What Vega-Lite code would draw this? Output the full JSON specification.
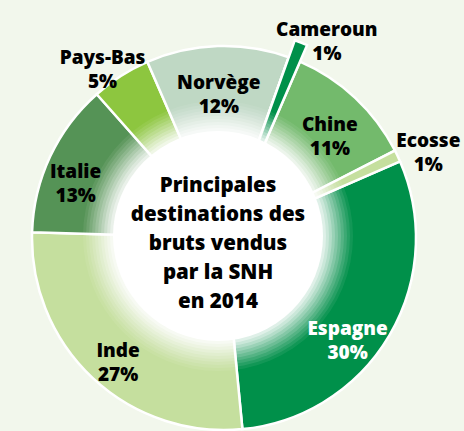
{
  "$schema": "https://vega.github.io/schema/vega-lite/v6.json",
  "width": 448,
  "height": 386,
  "autosize": {"type": "none"},
  "padding": {"left": 0, "top": 45, "right": 16, "bottom": 0},
  "background": "#F2F7EC",
  "config": {"view": {"stroke": null}},
  "datasets": {
    "parts": [
      {"pays": "Espagne", "pct": 30, "ordre": 1},
      {"pays": "Inde", "pct": 27, "ordre": 2},
      {"pays": "Italie", "pct": 13, "ordre": 3},
      {"pays": "Pays-Bas", "pct": 5, "ordre": 4},
      {"pays": "Norvège", "pct": 12, "ordre": 5},
      {"pays": "Cameroun", "pct": 1, "ordre": 6},
      {"pays": "Chine", "pct": 11, "ordre": 7},
      {"pays": "Ecosse", "pct": 1, "ordre": 8}
    ]
  },
  "layer": [
    {
      "data": {"name": "parts"},
      "transform": [
        {"stack": "pct", "groupby": [], "sort": [{"field": "ordre", "order": "ascending"}], "as": ["t0", "t1"]}
      ],
      "mark": {"type": "arc", "outerRadius": 192, "innerRadius": 90, "stroke": "white", "strokeWidth": 2.5},
      "encoding": {
        "theta": {"field": "t0", "type": "quantitative", "scale": {"domain": [0, 100], "range": [1.1606, 7.4438]}},
        "theta2": {"field": "t1"},
        "color": {
          "field": "pays", "type": "nominal", "legend": null,
          "scale": {
            "domain": ["Espagne", "Inde", "Italie", "Pays-Bas", "Norvège", "Cameroun", "Chine", "Ecosse"],
            "range": ["#00904A", "#C5DF9E", "#559356", "#8DC63F", "#BFD8C4", "#00904A", "#73BA6C", "#C5DF9E"]
          }
        }
      }
    },
    {
      "data": {"name": "parts"},
      "transform": [
        {"stack": "pct", "groupby": [], "sort": [{"field": "ordre", "order": "ascending"}], "as": ["t0", "t1"]},
        {"filter": "datum.pays === 'Cameroun'"}
      ],
      "mark": {"type": "arc", "outerRadius": 210, "innerRadius": 90, "stroke": "white", "strokeWidth": 2.5},
      "encoding": {
        "theta": {"field": "t0", "type": "quantitative", "scale": {"domain": [0, 100], "range": [1.1606, 7.4438]}},
        "theta2": {"field": "t1"},
        "color": {"field": "pays", "type": "nominal", "legend": null}
      }
    },
    {"data": {"values": [{"g": 1}]}, "mark": {"type": "arc", "theta": 0, "theta2": 6.2832, "innerRadius": 0, "outerRadius": 135, "fill": "white", "opacity": 0.07, "xOffset": -6, "yOffset": -2}, "encoding": {}},
    {"data": {"values": [{"g": 1}]}, "mark": {"type": "arc", "theta": 0, "theta2": 6.2832, "innerRadius": 0, "outerRadius": 132, "fill": "white", "opacity": 0.09, "xOffset": -6, "yOffset": -2}, "encoding": {}},
    {"data": {"values": [{"g": 1}]}, "mark": {"type": "arc", "theta": 0, "theta2": 6.2832, "innerRadius": 0, "outerRadius": 129, "fill": "white", "opacity": 0.1, "xOffset": -6, "yOffset": -2}, "encoding": {}},
    {"data": {"values": [{"g": 1}]}, "mark": {"type": "arc", "theta": 0, "theta2": 6.2832, "innerRadius": 0, "outerRadius": 126, "fill": "white", "opacity": 0.12, "xOffset": -6, "yOffset": -2}, "encoding": {}},
    {"data": {"values": [{"g": 1}]}, "mark": {"type": "arc", "theta": 0, "theta2": 6.2832, "innerRadius": 0, "outerRadius": 123, "fill": "white", "opacity": 0.14, "xOffset": -6, "yOffset": -2}, "encoding": {}},
    {"data": {"values": [{"g": 1}]}, "mark": {"type": "arc", "theta": 0, "theta2": 6.2832, "innerRadius": 0, "outerRadius": 120, "fill": "white", "opacity": 0.16, "xOffset": -6, "yOffset": -2}, "encoding": {}},
    {"data": {"values": [{"g": 1}]}, "mark": {"type": "arc", "theta": 0, "theta2": 6.2832, "innerRadius": 0, "outerRadius": 117, "fill": "white", "opacity": 0.2, "xOffset": -6, "yOffset": -2}, "encoding": {}},
    {"data": {"values": [{"g": 1}]}, "mark": {"type": "arc", "theta": 0, "theta2": 6.2832, "innerRadius": 0, "outerRadius": 114, "fill": "white", "opacity": 0.25, "xOffset": -6, "yOffset": -2}, "encoding": {}},
    {"data": {"values": [{"g": 1}]}, "mark": {"type": "arc", "theta": 0, "theta2": 6.2832, "innerRadius": 0, "outerRadius": 111, "fill": "white", "opacity": 0.3, "xOffset": -6, "yOffset": -2}, "encoding": {}},
    {"data": {"values": [{"g": 1}]}, "mark": {"type": "arc", "theta": 0, "theta2": 6.2832, "innerRadius": 0, "outerRadius": 108, "fill": "white", "opacity": 0.4, "xOffset": -6, "yOffset": -2}, "encoding": {}},
    {"data": {"values": [{"g": 1}]}, "mark": {"type": "arc", "theta": 0, "theta2": 6.2832, "innerRadius": 0, "outerRadius": 105, "fill": "white", "opacity": 1, "xOffset": -6, "yOffset": -2}, "encoding": {}},
    {
      "data": {"name": "parts"},
      "transform": [
        {"stack": "pct", "groupby": [], "sort": [{"field": "ordre", "order": "ascending"}], "as": ["t0", "t1"]},
        {"calculate": "(datum.t0 + datum.t1) / 2", "as": "mid"},
        {"calculate": "datum.pays + '\\n' + datum.pct + '%'", "as": "label"},
        {"filter": "indexof(['Norvège','Chine','Inde'], datum.pays) >= 0"}
      ],
      "mark": {"type": "text", "radius": 155, "font": "Open Sans", "fontWeight": 800, "fontSize": 19, "lineBreak": "\n", "lineHeight": 24, "align": "center", "baseline": "middle", "color": "black"},
      "encoding": {
        "theta": {"field": "mid", "type": "quantitative", "scale": {"domain": [0, 100], "range": [1.1606, 7.4438]}},
        "text": {"field": "label", "type": "nominal"}
      }
    },
    {
      "data": {"name": "parts"},
      "transform": [
        {"stack": "pct", "groupby": [], "sort": [{"field": "ordre", "order": "ascending"}], "as": ["t0", "t1"]},
        {"calculate": "(datum.t0 + datum.t1) / 2", "as": "mid"},
        {"calculate": "datum.pays + '\\n' + datum.pct + '%'", "as": "label"},
        {"filter": "datum.pays === 'Italie'"}
      ],
      "mark": {"type": "text", "radius": 155, "dx": -8, "font": "Open Sans", "fontWeight": 800, "fontSize": 19, "lineBreak": "\n", "lineHeight": 24, "align": "center", "baseline": "middle", "color": "black"},
      "encoding": {
        "theta": {"field": "mid", "type": "quantitative", "scale": {"domain": [0, 100], "range": [1.1606, 7.4438]}},
        "text": {"field": "label", "type": "nominal"}
      }
    },
    {
      "data": {"name": "parts"},
      "transform": [
        {"stack": "pct", "groupby": [], "sort": [{"field": "ordre", "order": "ascending"}], "as": ["t0", "t1"]},
        {"calculate": "(datum.t0 + datum.t1) / 2", "as": "mid"},
        {"calculate": "datum.pays + '\\n' + datum.pct + '%'", "as": "label"},
        {"filter": "datum.pays === 'Espagne'"}
      ],
      "mark": {"type": "text", "radius": 155, "dx": -10, "dy": 12, "font": "Open Sans", "fontWeight": 800, "fontSize": 19, "lineBreak": "\n", "lineHeight": 24, "align": "center", "baseline": "middle", "color": "white"},
      "encoding": {
        "theta": {"field": "mid", "type": "quantitative", "scale": {"domain": [0, 100], "range": [1.1606, 7.4438]}},
        "text": {"field": "label", "type": "nominal"}
      }
    },
    {
      "data": {"name": "parts"},
      "transform": [
        {"stack": "pct", "groupby": [], "sort": [{"field": "ordre", "order": "ascending"}], "as": ["t0", "t1"]},
        {"calculate": "(datum.t0 + datum.t1) / 2", "as": "mid"},
        {"calculate": "datum.pays + '\\n' + datum.pct + '%'", "as": "label"},
        {"filter": "datum.pays === 'Ecosse'"}
      ],
      "mark": {"type": "text", "radius": 226, "font": "Open Sans", "fontWeight": 800, "fontSize": 19, "lineBreak": "\n", "lineHeight": 24, "align": "center", "baseline": "middle", "color": "black"},
      "encoding": {
        "theta": {"field": "mid", "type": "quantitative", "scale": {"domain": [0, 100], "range": [1.1606, 7.4438]}},
        "text": {"field": "label", "type": "nominal"}
      }
    },
    {
      "data": {"name": "parts"},
      "transform": [
        {"stack": "pct", "groupby": [], "sort": [{"field": "ordre", "order": "ascending"}], "as": ["t0", "t1"]},
        {"calculate": "(datum.t0 + datum.t1) / 2", "as": "mid"},
        {"calculate": "datum.pays + '\\n' + datum.pct + '%'", "as": "label"},
        {"filter": "datum.pays === 'Pays-Bas'"}
      ],
      "mark": {"type": "text", "radius": 226, "dy": 11, "font": "Open Sans", "fontWeight": 800, "fontSize": 19, "lineBreak": "\n", "lineHeight": 24, "align": "center", "baseline": "middle", "color": "black"},
      "encoding": {
        "theta": {"field": "mid", "type": "quantitative", "scale": {"domain": [0, 100], "range": [1.1606, 7.4438]}},
        "text": {"field": "label", "type": "nominal"}
      }
    },
    {
      "data": {"name": "parts"},
      "transform": [
        {"stack": "pct", "groupby": [], "sort": [{"field": "ordre", "order": "ascending"}], "as": ["t0", "t1"]},
        {"calculate": "(datum.t0 + datum.t1) / 2", "as": "mid"},
        {"calculate": "datum.pays + '\\n' + datum.pct + '%'", "as": "label"},
        {"filter": "datum.pays === 'Cameroun'"}
      ],
      "mark": {"type": "text", "radius": 226, "dx": 20, "dy": 2, "font": "Open Sans", "fontWeight": 800, "fontSize": 19, "lineBreak": "\n", "lineHeight": 24, "align": "center", "baseline": "middle", "color": "black"},
      "encoding": {
        "theta": {"field": "mid", "type": "quantitative", "scale": {"domain": [0, 100], "range": [1.1606, 7.4438]}},
        "text": {"field": "label", "type": "nominal"}
      }
    },
    {
      "data": {"values": [{"titre": "Principales\ndestinations des\nbruts vendus\npar la SNH\nen 2014"}]},
      "mark": {"type": "text", "font": "Open Sans", "fontWeight": 800, "fontSize": 20.5, "lineBreak": "\n", "lineHeight": 29, "align": "center", "baseline": "middle", "color": "black", "dx": -6, "dy": -52},
      "encoding": {"text": {"field": "titre", "type": "nominal"}}
    }
  ]
}
